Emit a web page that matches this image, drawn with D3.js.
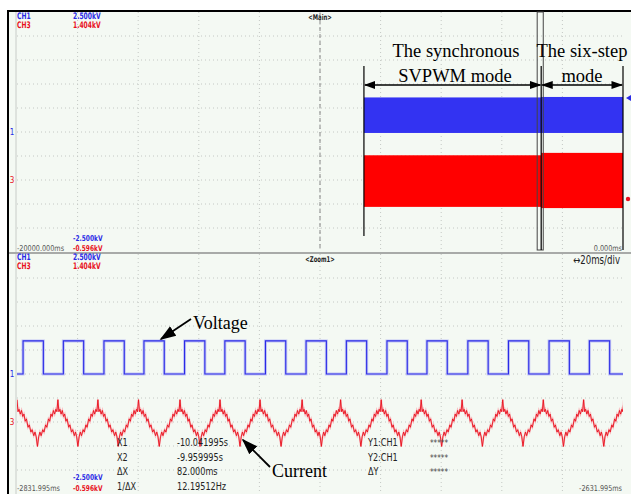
<!DOCTYPE html>
<html>
<head>
<meta charset="utf-8">
<script src="https://cdn.jsdelivr.net/npm/d3@7"></script>
<style>
  body { margin: 0; background: #fff; }
  svg { display: block; }
  .scope { font-family: 'DejaVu Sans Condensed', 'Liberation Sans Narrow', sans-serif; font-stretch: condensed; }
  .note { font-family: 'Liberation Serif', 'Times New Roman', serif; }
</style>
</head>
<body>
<div id="myDiv"></div>
<script>
// ---- data ----
// main window (ms), 2 s/div
var mainTime = [-20000, 0];
var mainLabels = ["-20000.000ms", "0.000ms"];
// zoom window, time measured from its left edge (ms), 20 ms/div
var zoomTime = [0, 200];
var zoomLabels = ["-2831.995ms", "-2631.995ms"];

// channel ranges (kV) as set on the scope
var ch1Range = [-2.5, 2.5];
var ch3Range = [-0.596, 1.404];
var ch1Labels = ["2.500kV", "-2.500kV"];
var ch3Labels = ["1.404kV", "-0.596kV"];

// envelopes of the compressed main traces: start, end, min, max
var ch1Bands = [
    { t0: -8550, t1: -2700, lo: -0.02, hi: 0.72 },
    { t0: -2700, t1: 0, lo: -0.02, hi: 0.73 }
];
var ch3Bands = [
    { t0: -8550, t1: -2700, lo: -0.22, hi: 0.21 },
    { t0: -2700, t1: 0, lo: -0.23, hi: 0.23 }
];
var zoomBox = [-2831.995, -2631.995];

// voltage square wave in zoom window (ms)
var voltRise = [2.0, 15.3, 28.7, 41.9, 55.3, 68.6, 82.0, 95.4, 108.7, 122.1, 135.3, 148.8, 162.2, 175.6, 188.9];
var voltFall = [8.7, 22.0, 35.4, 48.6, 62.0, 75.3, 88.7, 102.1, 115.4, 128.8, 142.0, 155.5, 168.9, 182.3, 195.6];
var voltHigh = 0.69;
var voltLow = 0;

// current: peak times (ms) and shape of one period (phase, kA)
var currPeaks = [0, 13.5, 26.7, 40.1, 53.8, 67.0, 80.2, 94.1, 106.8, 120.2, 133.4, 146.9, 160.3, 173.7, 187.0, 200.3];
var currShape = [
    [0.00, 0.19], [0.025, 0.09], [0.05, 0.11], [0.08, 0.07], [0.11, 0.10], [0.14, 0.05],
    [0.17, 0.07], [0.20, 0.01], [0.23, 0.03], [0.27, -0.04], [0.30, -0.02], [0.34, -0.08],
    [0.37, -0.06], [0.41, -0.11], [0.44, -0.08], [0.47, -0.12], [0.50, -0.20], [0.53, -0.12],
    [0.56, -0.08], [0.59, -0.11], [0.63, -0.06], [0.66, -0.08], [0.70, -0.02], [0.73, -0.04],
    [0.77, 0.03], [0.80, 0.01], [0.83, 0.07], [0.86, 0.05], [0.89, 0.10], [0.92, 0.07],
    [0.95, 0.11], [0.975, 0.09], [1.00, 0.19]
];

// cursor readout
var readLeft = [["X1", "-10.041995s"], ["X2", "-9.959995s"], ["\u0394X", "82.000ms"], ["1/\u0394X", "12.19512Hz"]];
var readRight = [["Y1:CH1", "*****"], ["Y2:CH1", "*****"], ["\u0394Y", "*****"]];

// ---- drawing ----
var W = 631, H = 494;
var blue = "#2a2ae6", red = "#e8101c";
var svg = d3.select("#myDiv").append("svg").attr("width", W).attr("height", H);

var defs = svg.append("defs");
defs.append("marker").attr("id", "ah").attr("viewBox", "0 0 10 10")
    .attr("refX", 9).attr("refY", 5).attr("markerWidth", 9).attr("markerHeight", 9)
    .attr("orient", "auto-start-reverse")
    .append("path").attr("d", "M0,1.5 L10,5 L0,8.5 Z").attr("fill", "#000");

// screen background and frame
svg.append("rect").attr("x", 8).attr("y", 11).attr("width", W - 8).attr("height", H - 11).attr("fill", "#f4f9f3");

var plotX = [17, 623];
var upper = [252, 12], lower = [494, 254];

var xMain = d3.scaleLinear().domain(mainTime).range(plotX);
var xZoom = d3.scaleLinear().domain(zoomTime).range(plotX);
var yU1 = d3.scaleLinear().domain(ch1Range).range(upper);
var yU3 = d3.scaleLinear().domain(ch3Range).range(upper);
var yL1 = d3.scaleLinear().domain(ch1Range).range(lower);
var yL3 = d3.scaleLinear().domain(ch3Range).range(lower);

// grids
function grid(yr) {
    var g = svg.append("g").attr("stroke", "#c4c8c4").attr("stroke-dasharray", "1,3");
    d3.range(1, 10).forEach(function (i) {
        var x = plotX[0] + i * (plotX[1] - plotX[0]) / 10;
        g.append("line").attr("x1", x).attr("x2", x).attr("y1", yr[1]).attr("y2", yr[0]);
        var y = yr[1] + i * (yr[0] - yr[1]) / 10;
        g.append("line").attr("x1", plotX[0]).attr("x2", plotX[1]).attr("y1", y).attr("y2", y);
    });
}
grid(upper);
grid(lower);

svg.append("line").attr("x1", 16).attr("x2", 16).attr("y1", 12).attr("y2", H).attr("stroke", "#c8ccc8");
svg.append("line").attr("x1", 8).attr("x2", W).attr("y1", 253).attr("y2", 253).attr("stroke", "#a8aaa8").attr("stroke-width", 2);
svg.append("line").attr("x1", 8).attr("x2", 8).attr("y1", 10).attr("y2", H).attr("stroke", "#000").attr("stroke-width", 2);
svg.append("line").attr("x1", 7).attr("x2", W).attr("y1", 11).attr("y2", 11).attr("stroke", "#000").attr("stroke-width", 2);

// trigger position line in main window
svg.append("line").attr("x1", xMain(-10000)).attr("x2", xMain(-10000)).attr("y1", 13).attr("y2", 251)
    .attr("stroke", "#888").attr("stroke-dasharray", "4,3");

// main traces (dense signal envelopes)
svg.selectAll(".b1").data(ch1Bands).enter().append("rect")
    .attr("x", function (d) { return xMain(d.t0); })
    .attr("width", function (d) { return xMain(d.t1) - xMain(d.t0); })
    .attr("y", function (d) { return yU1(d.hi); })
    .attr("height", function (d) { return yU1(d.lo) - yU1(d.hi); })
    .attr("fill", "#3333f2");
svg.selectAll(".b3").data(ch3Bands).enter().append("rect")
    .attr("x", function (d) { return xMain(d.t0); })
    .attr("width", function (d) { return xMain(d.t1) - xMain(d.t0); })
    .attr("y", function (d) { return yU3(d.hi); })
    .attr("height", function (d) { return yU3(d.lo) - yU3(d.hi); })
    .attr("fill", "#ff0000");

// zoom box
svg.append("rect").attr("x", xMain(zoomBox[0])).attr("y", 12)
    .attr("width", xMain(zoomBox[1]) - xMain(zoomBox[0])).attr("height", 238)
    .attr("fill", "none").attr("stroke", "#444").attr("stroke-width", 1);

// voltage trace
var vPts = [[zoomTime[0], voltLow]];
voltRise.forEach(function (r, i) {
    vPts.push([r, voltHigh]);
    vPts.push([voltFall[i], voltLow]);
});
vPts.push([zoomTime[1], voltLow]);
var vLine = d3.line().x(function (d) { return xZoom(d[0]); }).y(function (d) { return yL1(d[1]); })
    .curve(d3.curveStepAfter);
svg.append("path").attr("d", vLine(vPts)).attr("fill", "none").attr("stroke", "#c2c5f4").attr("stroke-width", 3);
svg.append("path").attr("d", vLine(vPts)).attr("fill", "none").attr("stroke", blue).attr("stroke-width", 1.1);

// current trace
var iPts = [];
for (var k = 0; k < currPeaks.length - 1; k++) {
    var p0 = currPeaks[k], p1 = currPeaks[k + 1];
    currShape.forEach(function (s, j) {
        if (k > 0 && j === 0) return;
        iPts.push([p0 + s[0] * (p1 - p0), s[1]]);
    });
}
var iLine = d3.line().x(function (d) { return xZoom(d[0]); }).y(function (d) { return yL3(d[1]); });
svg.append("defs").append("clipPath").attr("id", "clipL").append("rect")
    .attr("x", plotX[0]).attr("y", lower[1]).attr("width", plotX[1] - plotX[0]).attr("height", lower[0] - lower[1]);
svg.append("path").attr("d", iLine(iPts)).attr("clip-path", "url(#clipL)")
    .attr("fill", "none").attr("stroke", "#f7b8bc").attr("stroke-width", 1.8);
svg.append("path").attr("d", iLine(iPts)).attr("clip-path", "url(#clipL)")
    .attr("fill", "none").attr("stroke", red).attr("stroke-width", 0.9);

// channel markers
function marker(x, y, col, lab) {
    svg.append("text").attr("class", "scope").attr("x", x).attr("y", y + 3).attr("fill", col)
        .attr("font-size", "8px").attr("text-anchor", "middle").text(lab);
}
marker(12, yU1(0), blue, "1");
marker(12, yU3(0), red, "3");
marker(12, yL1(0), blue, "1");
marker(12, yL3(0), red, "3");
svg.append("path").attr("d", "M631,95 L626,98 L631,101 Z").attr("fill", blue);
svg.append("circle").attr("cx", 628).attr("cy", 199).attr("r", 2.2).attr("fill", red);

// scope labels (narrow bitmap-like font, squeezed horizontally)
function txt(x, y, s, col, opts) {
    opts = opts || {};
    return svg.append("text").attr("class", "scope")
        .attr("transform", "translate(" + x + "," + y + ") scale(" + (opts.sx || 0.74) + ",1)")
        .attr("fill", col).attr("font-size", opts.size || "9px")
        .attr("font-weight", opts.weight || "bold")
        .attr("text-anchor", opts.anchor || "start").text(s);
}
txt(17, 19, "CH1", blue); txt(73, 19, ch1Labels[0], blue);
txt(17, 28, "CH3", red); txt(73, 28, ch3Labels[0], red);
txt(320, 20, "<Main>", "#222", { anchor: "middle", size: "8px" });
txt(73, 241, ch1Labels[1], blue, { size: "8px", sx: 0.82 });
txt(17, 251, mainLabels[0], "#555", { weight: "normal", size: "8px", sx: 0.9 });
txt(73, 251, ch3Labels[1], red, { size: "8px", sx: 0.82 });
txt(622, 251, mainLabels[1], "#555", { anchor: "end", weight: "normal", size: "8px", sx: 0.9 });

txt(17, 260, "CH1", blue); txt(73, 260, ch1Labels[0], blue);
txt(17, 269, "CH3", red); txt(73, 269, ch3Labels[0], red);
txt(320, 262, "<Zoom1>", "#222", { anchor: "middle", size: "8px" });
txt(620, 264, "\u219420ms/div", "#222", { anchor: "end", size: "12px", weight: "normal", sx: 0.8 });
txt(73, 480, ch1Labels[1], blue, { size: "8px", sx: 0.82 });
txt(17, 491, zoomLabels[0], "#555", { weight: "normal", size: "8px", sx: 0.9 });
txt(73, 491, ch3Labels[1], red, { size: "8px", sx: 0.82 });
txt(622, 491, zoomLabels[1], "#555", { anchor: "end", weight: "normal", size: "8px", sx: 0.9 });

// cursor readout
readLeft.forEach(function (r, i) {
    var y = 446 + i * 14.7;
    txt(117, y, r[0], "#222", { size: "10.5px", weight: "normal", sx: 0.86 });
    txt(177, y, r[1], "#222", { size: "10.5px", weight: "normal", sx: 0.86 });
});
readRight.forEach(function (r, i) {
    var y = 446 + i * 14.7;
    txt(368, y, r[0], "#222", { size: "10.5px", weight: "normal", sx: 0.86 });
    txt(430, y, r[1], "#444", { size: "8px", weight: "normal", sx: 1 });
});

// annotations
function note(x, y, s) {
    svg.append("text").attr("class", "note").attr("x", x).attr("y", y).attr("font-size", "18.5px")
        .attr("fill", "#000").attr("text-anchor", "middle").text(s);
}
note(456, 57, "The synchronous");
note(455, 82, "SVPWM mode");
note(582, 57, "The six-step");
note(582, 82, "mode");

var xs = xMain(ch1Bands[0].t0), xm = xMain(ch1Bands[1].t0), xe = xMain(ch1Bands[1].t1);
svg.append("line").attr("x1", xs).attr("x2", xs).attr("y1", 66).attr("y2", 236).attr("stroke", "#000").attr("stroke-width", 1.2);
svg.append("line").attr("x1", xm).attr("x2", xm).attr("y1", 66).attr("y2", 250).attr("stroke", "#000").attr("stroke-width", 1.2);
svg.append("line").attr("x1", xe).attr("x2", xe).attr("y1", 66).attr("y2", 250).attr("stroke", "#000").attr("stroke-width", 1.2);
[[xs, xm], [xm, xe]].forEach(function (p) {
    svg.append("line").attr("x1", p[0] + 1).attr("x2", p[1] - 1).attr("y1", 85).attr("y2", 85)
        .attr("stroke", "#000").attr("stroke-width", 1.3)
        .attr("marker-start", "url(#ah)").attr("marker-end", "url(#ah)");
});

svg.append("text").attr("class", "note").attr("x", 193).attr("y", 329).attr("font-size", "18px").text("Voltage");
svg.append("line").attr("x1", 191).attr("y1", 319).attr("x2", 161).attr("y2", 339)
    .attr("stroke", "#000").attr("stroke-width", 1.8).attr("marker-end", "url(#ah)");
svg.append("text").attr("class", "note").attr("x", 272).attr("y", 477).attr("font-size", "18px").text("Current");
svg.append("line").attr("x1", 270).attr("y1", 467).attr("x2", 243).attr("y2", 440)
    .attr("stroke", "#000").attr("stroke-width", 1.8).attr("marker-end", "url(#ah)");
</script>
</body>
</html>
